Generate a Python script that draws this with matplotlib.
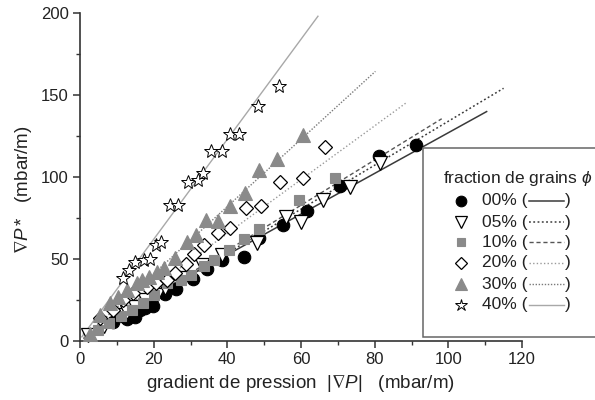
import matplotlib
matplotlib.use("Agg")
import matplotlib.pyplot as plt
from matplotlib.lines import Line2D
from matplotlib.patches import Rectangle

plt.rcParams['font.family'] = ['Liberation Sans', 'DejaVu Sans']
plt.rcParams['mathtext.fontset'] = 'custom'
plt.rcParams['mathtext.rm'] = 'Liberation Sans'
plt.rcParams['mathtext.it'] = 'Liberation Sans:italic'
plt.rcParams['mathtext.fallback'] = 'stixsans'

# ---------------- data ----------------
labels = ['00%', '05%', '10%', '20%', '30%', '40%']

x00 = [9.0, 12.3, 12.8, 13.6, 14.3, 15.0, 16.4, 17.7, 19.8, 23.0, 26.0, 30.7, 34.5, 38.5, 44.5, 48.5, 55.0, 61.7, 70.6, 81.2, 91.2]
y00 = [11.3, 14.6, 13.5, 15.9, 17.0, 14.8, 18.9, 19.9, 21.3, 28.8, 32.0, 37.8, 43.7, 49.4, 51.5, 62.6, 70.9, 79.3, 94.6, 112.8, 119.8]

x05 = [2.2, 6.5, 10.9, 12.8, 15.0, 17.7, 20.9, 23.2, 28.2, 33.2, 38.6, 48.0, 55.9, 60.0, 65.9, 73.4, 81.5]
y05 = [3.7, 9.1, 15.9, 17.9, 21.0, 25.0, 28.0, 32.1, 38.2, 46.3, 52.4, 60.0, 75.8, 72.7, 85.7, 93.9, 108.5]

x10 = [5.0, 8.0, 11.0, 14.0, 17.0, 20.0, 23.6, 27.3, 30.0, 33.6, 36.4, 40.4, 44.5, 48.6, 59.5, 69.1]
y10 = [7.0, 11.0, 15.0, 19.0, 23.0, 28.0, 35.2, 37.2, 40.2, 45.7, 49.4, 55.5, 62.2, 68.1, 86.0, 99.2]

x20 = [5.5, 9.0, 11.8, 14.5, 18.2, 20.5, 23.6, 25.9, 28.9, 30.9, 33.8, 37.5, 40.6, 45.0, 49.1, 54.3, 60.5, 66.4]
y20 = [14.0, 19.0, 25.0, 29.0, 33.1, 35.2, 37.2, 41.5, 47.0, 53.0, 58.5, 65.9, 68.7, 80.9, 82.1, 97.1, 99.4, 118.5]

x30 = [2.7, 5.5, 8.2, 10.4, 12.7, 15.5, 16.8, 18.6, 20.9, 22.7, 25.9, 29.1, 31.6, 34.1, 37.6, 40.6, 44.7, 48.6, 53.6, 60.5]
y30 = [4.3, 15.9, 23.2, 27.0, 31.1, 35.2, 37.2, 39.2, 42.3, 44.3, 50.6, 60.5, 64.6, 73.8, 73.2, 82.6, 90.4, 104.3, 110.8, 125.6]

x40 = [11.8, 13.2, 15.0, 17.3, 19.1, 20.5, 22.1, 24.5, 26.5, 29.2, 32.0, 33.5, 35.7, 38.5, 40.6, 43.1, 48.3, 53.9]
y40 = [38.2, 43.3, 48.2, 49.4, 50.0, 58.5, 60.5, 82.9, 82.9, 97.0, 98.2, 102.4, 115.9, 115.9, 126.2, 126.2, 143.0, 155.5]

fit_slope = [1.24, 1.34, 1.38, 1.64, 2.05, 3.05]
fit_intercept = [3.0, 0.0, 0.0, 0.0, 0.0, 1.0]
fit_xmin = [1.0, 1.0, 1.0, 1.0, 1.0, 0.5]
fit_xmax = [110.4, 115.0, 98.2, 88.6, 80.2, 64.6]

xticks = [0, 20, 40, 60, 80, 100, 120]
yticks = [0, 50, 100, 150, 200]

# ---------------- styles ----------------
xs = [x00, x05, x10, x20, x30, x40]
ys = [y00, y05, y10, y20, y30, y40]
gray = '#8a8a8a'
mstyle = [
    dict(marker='o', ms=9, mfc='black', mec='black', mew=0.8),
    dict(marker='v', ms=10, mfc='white', mec='black', mew=0.9),
    dict(marker='s', ms=7.5, mfc=gray, mec=gray, mew=0.8),
    dict(marker='D', ms=7.5, mfc='white', mec='black', mew=0.9),
    dict(marker='^', ms=10, mfc=gray, mec=gray, mew=0.8),
    dict(marker='*', ms=10.5, mfc='white', mec='black', mew=0.7),
]
lstyle = [
    dict(color='#3a3a3a', ls='-', lw=1.1),
    dict(color='#3a3a3a', ls=(0, (1.2, 1.6)), lw=1.1),
    dict(color='#555555', ls=(0, (3, 2)), lw=1.0),
    dict(color='#9a9a9a', ls=(0, (1, 1.6)), lw=1.0),
    dict(color='#7a7a7a', ls=(0, (1, 1.2)), lw=1.0),
    dict(color='#a8a8a8', ls='-', lw=1.0),
]

W, H = 595, 400
fig = plt.figure(figsize=(W / 100, H / 100), dpi=100)
ax = fig.add_axes([80 / W, 59 / H, 442 / W, 328 / H])

for i in range(6):
    a, b = fit_slope[i], fit_intercept[i]
    lx = [fit_xmin[i], fit_xmax[i]]
    ax.plot(lx, [a * v + b for v in lx], zorder=2, **lstyle[i])
for i in range(6):
    ax.plot(xs[i], ys[i], ls='none', zorder=3, clip_on=False, **mstyle[i])

ax.set_xlim(0, 120)
ax.set_ylim(0, 200)
ax.set_xticks(xticks)
ax.set_yticks(yticks)
ax.set_xticks([10, 30, 50, 70, 90, 110], minor=True)
ax.set_yticks([25, 75, 125, 175], minor=True)
for s in ['top', 'right']:
    ax.spines[s].set_visible(False)
for s in ['left', 'bottom']:
    ax.spines[s].set_color('#333333')
    ax.spines[s].set_linewidth(1.2)
ax.tick_params(which='major', direction='out', length=5, width=1.1, color='#333333',
               labelsize=12, labelcolor='#222222', pad=3)
ax.tick_params(which='minor', direction='out', length=3, width=1.0, color='#333333')

fig.text(300 / W, 1 - 383 / H, r'gradient de pression  $|\nabla P|$   (mbar/m)',
         ha='center', va='center', fontsize=13.5, color='#222222')
fig.text(23 / W, 1 - 190 / H, r'$\nabla P\,$*   (mbar/m)', rotation=90,
         ha='center', va='center', fontsize=13.5, color='#222222')

# ---------------- legend (drawn by hand, clipped at figure edge) ----------------
rect = Rectangle((423 / W, 1 - 337 / H), (W + 10 - 423) / W, (337 - 148) / H,
                 transform=fig.transFigure, facecolor='white', edgecolor='#666666',
                 lw=1.1, zorder=10, clip_on=False)
fig.add_artist(rect)
fig.text(443 / W, 1 - 178 / H, r'fraction de grains $\phi$', ha='left', va='center',
         fontsize=12.5, color='#222222', zorder=11)
row_y = [201, 222, 242.5, 263, 284, 305]
for i in range(6):
    yy = 1 - row_y[i] / H
    st = dict(mstyle[i])
    st['ms'] = st['ms'] * 0.85
    fig.add_artist(Line2D([461 / W], [yy], transform=fig.transFigure, ls='none', zorder=11, **st))
    fig.text(482 / W, yy, labels[i] + ' (', ha='left', va='center', fontsize=12.5,
             color='#222222', zorder=11)
    fig.add_artist(Line2D([529 / W, 564 / W], [yy, yy], transform=fig.transFigure,
                          zorder=11, **lstyle[i]))
    fig.text(565 / W, yy, ')', ha='left', va='center', fontsize=12.5,
             color='#222222', zorder=11)

fig.savefig('out.png', dpi=100)
